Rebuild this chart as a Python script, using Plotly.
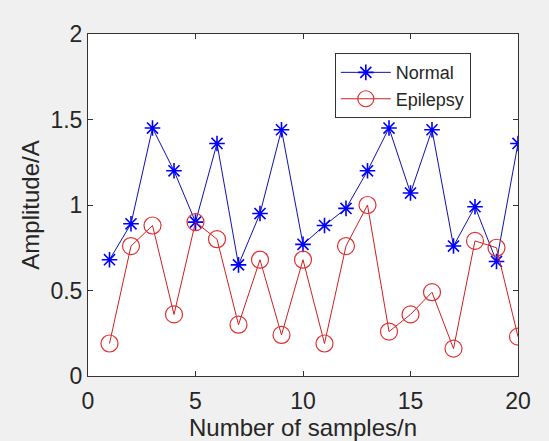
import plotly.graph_objects as go

samples = list(range(1, 21))
normal = [0.68, 0.89, 1.45, 1.20, 0.90, 1.36, 0.65, 0.95, 1.44, 0.77,
          0.88, 0.98, 1.20, 1.45, 1.07, 1.44, 0.76, 0.99, 0.67, 1.36]
epilepsy = [0.19, 0.76, 0.88, 0.36, 0.90, 0.80, 0.30, 0.68, 0.24, 0.68,
            0.19, 0.76, 1.00, 0.26, 0.36, 0.49, 0.16, 0.79, 0.75, 0.23]
x_ticks = [0, 5, 10, 15, 20]
y_ticks = [0, 0.5, 1, 1.5, 2]
y_tick_text = ["0", "0.5", "1", "1.5", "2"]

font_family = "Liberation Sans, Arial, sans-serif"

fig = go.Figure()
fig.add_trace(go.Scatter(
    x=samples, y=normal, name="Normal", mode="lines+markers",
    line=dict(color="#1010b0", width=1),
    marker=dict(symbol="asterisk-open", size=13, color="#0000ff",
                line=dict(color="#0000ff", width=1.6)),
))
fig.add_trace(go.Scatter(
    x=samples, y=epilepsy, name="Epilepsy", mode="lines+markers",
    line=dict(color="#d02020", width=1),
    marker=dict(symbol="circle-open", size=17, color="#e03030",
                line=dict(color="#e03030", width=1.2)),
))

axis_common = dict(
    showline=True, linecolor="#333333", linewidth=1, mirror="ticks",
    ticks="inside", ticklen=5, tickcolor="#333333", showgrid=False,
    zeroline=False, automargin=False,
    tickfont=dict(size=23, color="#262626", family=font_family),
)

fig.update_layout(
    width=549, height=441,
    margin=dict(l=88, r=31, t=34, b=65),
    paper_bgcolor="#f0f0f0", plot_bgcolor="#ffffff",
    font=dict(family=font_family, color="#262626"),
    xaxis=dict(range=[0, 20], tickvals=x_ticks, ticktext=[str(v) for v in x_ticks],
               ticklabelstandoff=4,
               title=dict(text="Number of samples/n", font=dict(size=24), standoff=8),
               **axis_common),
    yaxis=dict(range=[0, 2], tickvals=y_ticks, ticktext=y_tick_text,
               title=dict(text="Amplitude/A", font=dict(size=24), standoff=4),
               **axis_common),
    legend=dict(x=0.574, y=0.944, xanchor="left", yanchor="top",
                bgcolor="#ffffff", bordercolor="#333333", borderwidth=1,
                font=dict(size=18, color="#262626", family=font_family),
                itemwidth=50, tracegroupgap=0),
    showlegend=True,
)

fig.write_html(
    "out.html",
    config={"displayModeBar": False},
    post_script="document.body.style.margin='0';document.body.style.background='#f0f0f0';",
)
